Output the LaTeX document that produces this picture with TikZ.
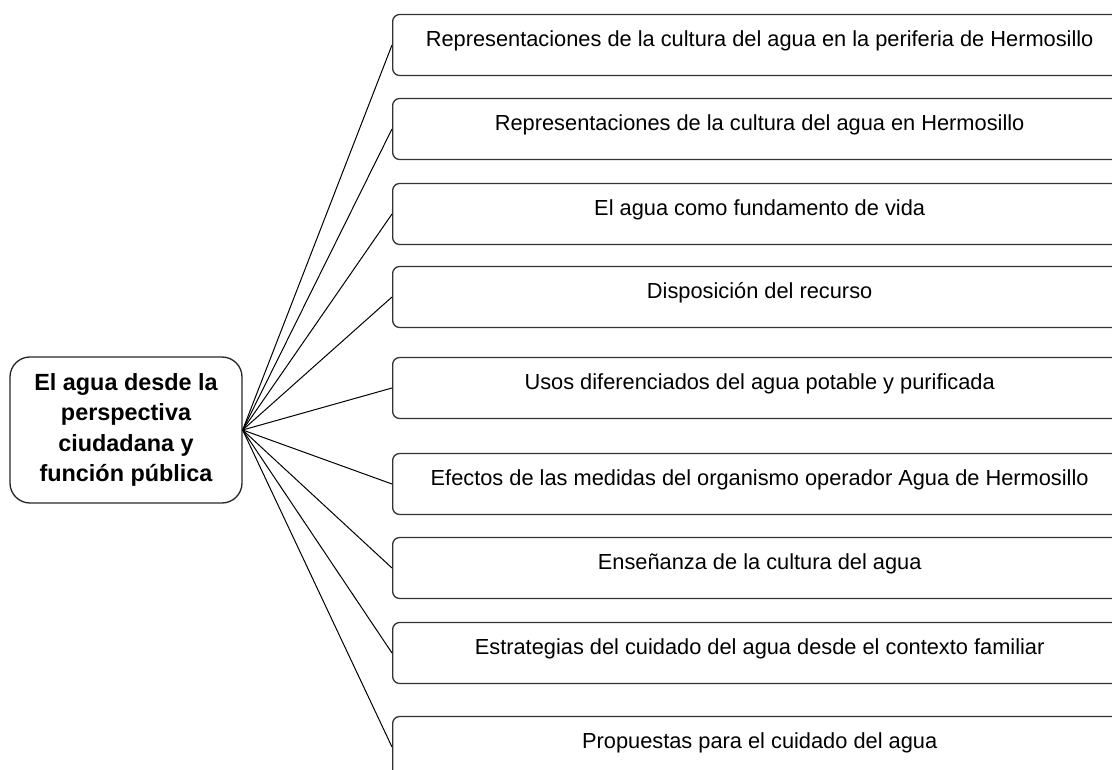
\documentclass[tikz,border=0pt]{standalone}
\usepackage{fontspec}
\setmainfont{Liberation Sans}
\usepackage{xcolor}
\begin{document}
\begin{tikzpicture}[x=1pt,y=-1pt]
\tikzstyle{topic}=[rectangle,draw=black!80,line width=1.3pt,rounded corners=7pt,anchor=west,minimum width=734pt,minimum height=61pt,text height=15pt,text depth=12pt,font=\fontsize{21.8}{26}\selectfont]
\tikzstyle{theme}=[rectangle,draw=black!85,line width=1.3pt,rounded corners=20pt,minimum width=232pt,minimum height=146pt,align=center,font=\fontsize{23.4}{30.5}\selectfont\bfseries]

\useasboundingbox (0,0) rectangle (1112,770);
\clip (0,0) rectangle (1112,770);

\node[theme](Agua) at (126,430){El agua desde la\\perspectiva\\ciudadana y\\función pública};

\node[topic](Periferia) at (392,45){Representaciones de la cultura del agua en la periferia de Hermosillo};
\node[topic](Hermosillo) at (392,129){Representaciones de la cultura del agua en Hermosillo};
\node[topic](Vida) at (392,214){El agua como fundamento de vida};
\node[topic](Disposicion) at (392,297){Disposición del recurso};
\node[topic](Usos) at (392,388){Usos diferenciados del agua potable y purificada};
\node[topic](Efectos) at (392,484){Efectos de las medidas del organismo operador Agua de Hermosillo};
\node[topic](Ensenanza) at (392,568){Enseñanza de la cultura del agua};
\node[topic](Estrategias) at (392,653){Estrategias del cuidado del agua desde el contexto familiar};
\node[topic](Propuestas) at (392,747){Propuestas para el cuidado del agua};

\draw[line width=1pt] (Agua.east) -- (Periferia.west);
\draw[line width=1pt] (Agua.east) -- (Hermosillo.west);
\draw[line width=1pt] (Agua.east) -- (Vida.west);
\draw[line width=1pt] (Agua.east) -- (Disposicion.west);
\draw[line width=1pt] (Agua.east) -- (Usos.west);
\draw[line width=1pt] (Agua.east) -- (Efectos.west);
\draw[line width=1pt] (Agua.east) -- (Ensenanza.west);
\draw[line width=1pt] (Agua.east) -- (Estrategias.west);
\draw[line width=1pt] (Agua.east) -- (Propuestas.west);

\end{tikzpicture}
\end{document}
